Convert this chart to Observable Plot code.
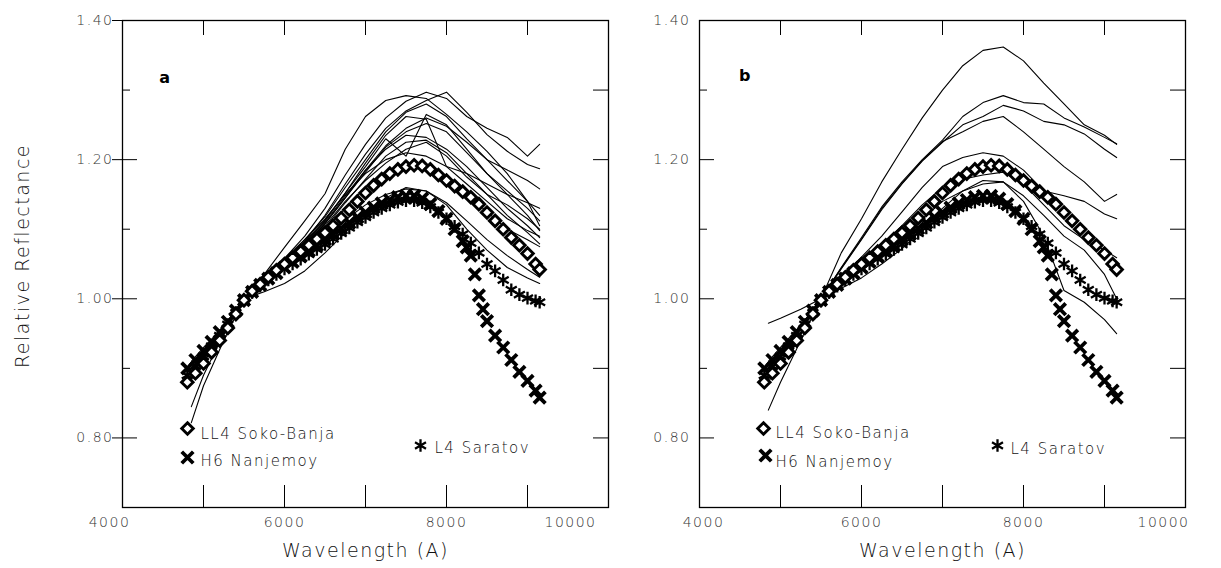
<!DOCTYPE html>
<html>
<head>
<meta charset="utf-8">
<script src="https://cdn.jsdelivr.net/npm/d3@7"></script>
<script src="https://cdn.jsdelivr.net/npm/@observablehq/plot@0.6"></script>
<style>
  html, body { margin: 0; padding: 0; background: #fff; }
  #wrap { display: flex; width: 1221px; height: 568px; overflow: hidden; }
  svg text { letter-spacing: 1.5px; }
</style>
</head>
<body>
<div id="wrap"></div>
<script>
// ---------- DATA ----------
// Reference meteorite spectra (marker series), wavelength in Angstrom
const markerWl = [4800,4900,5000,5100,5200,5300,5400,5500,5600,5700,5800,5900,6000,6100,6200,6300,6400,6500,6600,6700,6800,6900,7000,7100,7200,7300,7400,7500,7600,7700,7800,7900,8000,8100,8200,8300,8400,8500,8600,8700,8800,8900,9000,9100,9150];
const ll4SokoBanja = [0.880,0.893,0.907,0.923,0.940,0.958,0.978,0.998,1.011,1.021,1.031,1.041,1.050,1.059,1.068,1.077,1.086,1.095,1.105,1.116,1.128,1.140,1.152,1.163,1.172,1.180,1.186,1.190,1.192,1.191,1.186,1.178,1.170,1.162,1.154,1.146,1.136,1.124,1.112,1.100,1.088,1.077,1.065,1.050,1.042];
const l4Saratov = [0.890,0.903,0.917,0.932,0.947,0.963,0.980,0.997,1.009,1.018,1.027,1.035,1.043,1.050,1.057,1.064,1.071,1.078,1.086,1.094,1.102,1.110,1.117,1.124,1.130,1.135,1.139,1.141,1.141,1.138,1.132,1.124,1.115,1.104,1.093,1.080,1.066,1.050,1.040,1.027,1.013,1.006,1.001,0.997,0.995];
const h6Wl = [4800,4900,5000,5100,5200,5300,5400,5500,5600,5700,5800,5900,6000,6100,6200,6300,6400,6500,6600,6700,6800,6900,7000,7100,7200,7300,7400,7500,7600,7700,7800,7900,8000,8100,8200,8250,8300,8350,8400,8450,8500,8600,8700,8800,8900,9000,9100,9150];
const h6Nanjemoy = [0.900,0.912,0.925,0.938,0.952,0.967,0.983,0.998,1.010,1.020,1.029,1.037,1.045,1.053,1.061,1.069,1.077,1.085,1.093,1.101,1.109,1.117,1.124,1.131,1.137,1.142,1.146,1.148,1.148,1.144,1.136,1.126,1.115,1.100,1.083,1.074,1.062,1.035,1.005,0.985,0.968,0.947,0.930,0.912,0.895,0.882,0.868,0.858];

// Asteroid spectra (thin lines), shared wavelength grid
const lineWl = [4850,5000,5250,5500,5750,6000,6250,6500,6750,7000,7250,7500,7750,8000,8250,8500,8750,9000,9150];
const panelALines = [
  [0.905,0.925,0.960,1.000,1.035,1.074,1.112,1.151,1.215,1.262,1.285,1.292,1.288,1.265,1.240,1.212,1.180,1.140,1.105],
  [0.895,0.918,0.955,1.000,1.030,1.058,1.090,1.130,1.178,1.222,1.260,1.284,1.297,1.288,1.262,1.245,1.232,1.205,1.222],
  [0.890,0.915,0.953,1.000,1.028,1.052,1.083,1.120,1.165,1.208,1.245,1.270,1.285,1.297,1.268,1.236,1.212,1.193,1.187],
  [0.900,0.920,0.957,1.000,1.030,1.055,1.085,1.118,1.160,1.200,1.240,1.268,1.280,1.262,1.230,1.200,1.170,1.140,1.120],
  [0.910,0.930,0.960,1.000,1.030,1.054,1.082,1.113,1.152,1.190,1.230,1.205,1.265,1.250,1.215,1.180,1.155,1.130,1.112],
  [0.885,0.910,0.950,1.000,1.027,1.050,1.078,1.108,1.145,1.182,1.218,1.240,1.252,1.240,1.210,1.180,1.150,1.120,1.098],
  [0.900,0.922,0.958,1.000,1.029,1.052,1.080,1.110,1.148,1.185,1.215,1.235,1.232,1.215,1.190,1.160,1.130,1.105,1.088],
  [0.895,0.918,0.955,1.000,1.026,1.048,1.074,1.102,1.138,1.172,1.205,1.225,1.228,1.210,1.180,1.150,1.120,1.095,1.079],
  [0.905,0.925,0.960,1.000,1.030,1.052,1.078,1.105,1.140,1.170,1.195,1.215,1.225,1.205,1.175,1.150,1.135,1.115,1.100],
  [0.822,0.875,0.940,1.000,1.035,1.058,1.085,1.115,1.150,1.180,1.200,1.210,1.205,1.190,1.165,1.140,1.115,1.098,1.090],
  [0.845,0.890,0.950,1.000,1.030,1.050,1.075,1.100,1.130,1.160,1.180,1.190,1.185,1.170,1.150,1.125,1.100,1.085,1.075],
  [0.900,0.920,0.958,1.000,1.010,1.022,1.040,1.066,1.095,1.122,1.145,1.160,1.155,1.138,1.112,1.085,1.062,1.042,1.031],
  [0.895,0.915,0.955,1.000,1.025,1.045,1.068,1.090,1.113,1.135,1.150,1.158,1.155,1.135,1.100,1.070,1.045,1.030,1.022],
  [0.890,0.913,0.952,1.000,1.027,1.050,1.077,1.108,1.145,1.185,1.220,1.245,1.260,1.248,1.225,1.200,1.185,1.170,1.158],
  [0.900,0.920,0.956,1.000,1.028,1.053,1.080,1.112,1.152,1.195,1.235,1.262,1.258,1.190,1.180,1.165,1.150,1.138,1.130]
];
const panelBLines = [
  [0.840,0.880,0.940,1.000,1.066,1.115,1.168,1.215,1.260,1.300,1.335,1.357,1.362,1.342,1.310,1.280,1.250,1.235,1.222],
  [0.880,0.910,0.952,1.000,1.045,1.088,1.132,1.168,1.200,1.228,1.262,1.282,1.292,1.282,1.280,1.260,1.247,1.232,1.223],
  [0.900,0.925,0.960,1.000,1.043,1.085,1.128,1.165,1.198,1.225,1.250,1.262,1.278,1.270,1.255,1.250,1.237,1.215,1.203],
  [0.890,0.918,0.957,1.000,1.044,1.086,1.130,1.166,1.199,1.226,1.240,1.255,1.262,1.240,1.215,1.190,1.168,1.140,1.150],
  [0.900,0.925,0.960,1.000,1.030,1.060,1.090,1.125,1.160,1.190,1.203,1.210,1.205,1.185,1.155,1.148,1.140,1.122,1.115],
  [0.910,0.930,0.962,1.000,1.025,1.050,1.078,1.105,1.135,1.160,1.172,1.178,1.182,1.165,1.135,1.105,1.085,1.070,1.059],
  [0.965,0.972,0.985,1.000,1.020,1.040,1.065,1.090,1.115,1.140,1.155,1.165,1.168,1.140,1.090,1.012,0.995,0.970,0.950],
  [0.900,0.920,0.958,1.000,1.015,1.030,1.050,1.072,1.100,1.130,1.155,1.170,1.168,1.148,1.120,1.090,1.070,1.035,1.000]
];

// Axes
const xDomain = [4000, 10000];
const yDomain = [0.70, 1.40];
const xTickMarks = [4000,5000,6000,7000,8000,9000,10000];
const xTickLabelsMid = [6000, 8000];
const xTickLabelFirst = [4000];
const xTickLabelLast = [10000];
const yMajor = [0.80, 1.00, 1.20, 1.40];
const yMinor = [0.90, 1.10, 1.30];
const yAllTicks = [0.80, 0.90, 1.00, 1.10, 1.20, 1.30];
const xTitle = "Wavelength (A)";
const yTitle = "Relative Reflectance";
const legendNames = ["LL4 Soko-Banja", "H6 Nanjemoy", "L4 Saratov"];
const panelLetters = ["a", "b"];

// ---------- DRAW ----------
const H = 568, MT = 20, MB = 61;
const FONT = "DejaVu Sans";
const diamondStyle = {symbol: "diamond2", r: 5.2, stroke: "#000", strokeWidth: 2.9, fill: "white"};
const timesStyle = {symbol: "times", r: 5.3, stroke: "#000", strokeWidth: 3.8};
const asteriskStyle = {symbol: "asterisk", r: 6, stroke: "#000", strokeWidth: 2.3};

function panel(lines, o) {
  const frameW = o.width - o.marginLeft - o.marginRight;
  const frameH = H - MT - MB;
  const lineRows = lines.flatMap((vals, k) => vals.map((r, i) => ({k, w: lineWl[i], r})));
  const mk = (wl, vals) => wl.map((w, i) => ({w, r: vals[i]}));
  const tickFont = {fontSize: 14, fill: "#333", fontWeight: 300, tickFormat: d => String(d)};
  const L = o.legend;
  const legText = {frameAnchor: "top-left", textAnchor: "start", lineAnchor: "middle", fontSize: 15, fill: "#111", fontWeight: 300};
  const marks = [
    Plot.lineY(lineRows, {x: "w", y: "r", z: "k", stroke: "#000", strokeWidth: 1.1}),
    Plot.dot(mk(markerWl, l4Saratov), {x: "w", y: "r", ...asteriskStyle}),
    Plot.dot(mk(h6Wl, h6Nanjemoy), {x: "w", y: "r", ...timesStyle}),
    Plot.dot(mk(markerWl, ll4SokoBanja), {x: "w", y: "r", ...diamondStyle}),
    Plot.frame({stroke: "#000", strokeWidth: 1.3}),
    // inward ticks
    Plot.tickX(xTickMarks, {x: d => d, insetBottom: frameH - 15, stroke: "#000"}),
    Plot.tickX(xTickMarks, {x: d => d, insetTop: frameH - 22, stroke: "#000"}),
    Plot.tickY(yMajor, {y: d => d, insetRight: frameW - 15, insetLeft: o.outerTicks ? -10 : 0, stroke: "#000"}),
    Plot.tickY(yMinor, {y: d => d, insetRight: frameW - 8, stroke: "#000"}),
    Plot.tickY(yAllTicks, {y: d => d, insetLeft: frameW - 15, stroke: "#000"}),
    // tick labels
    Plot.axisX(xTickLabelsMid, {anchor: "bottom", tickSize: 0, tickPadding: 10, label: null, ...tickFont}),
    Plot.axisX(xTickLabelFirst, {anchor: "bottom", tickSize: 0, tickPadding: 10, label: null, dx: o.firstDx, ...tickFont}),
    Plot.axisX(xTickLabelLast, {anchor: "bottom", tickSize: 0, tickPadding: 10, label: null, dx: o.lastDx, ...tickFont}),
    Plot.axisY(yMajor, {anchor: "left", tickSize: 0, tickPadding: 9, label: null, ...tickFont, tickFormat: d3.format(".2f")}),
    // titles
    Plot.text([xTitle], {frameAnchor: "bottom", textAnchor: "middle", lineAnchor: "middle", dy: 43, fontSize: 19, fill: "#111", fontWeight: 300}),
    Plot.text([o.letter], {frameAnchor: "top-left", textAnchor: "middle", lineAnchor: "middle", dx: o.letterDx, dy: o.letterDy, fontSize: 16, fontWeight: "bold", fill: "#000"}),
    // legend
    Plot.dot([legendNames[0]], {frameAnchor: "top-left", dx: L.d[0], dy: L.d[1], ...diamondStyle}),
    Plot.dot([legendNames[1]], {frameAnchor: "top-left", dx: L.x[0], dy: L.x[1], ...timesStyle}),
    Plot.dot([legendNames[2]], {frameAnchor: "top-left", dx: L.a[0], dy: L.a[1], ...asteriskStyle}),
    Plot.text([legendNames[0]], {...legText, dx: L.t0[0], dy: L.t0[1]}),
    Plot.text([legendNames[1]], {...legText, dx: L.t1[0], dy: L.t1[1]}),
    Plot.text([legendNames[2]], {...legText, dx: L.t2[0], dy: L.t2[1]})
  ];
  if (o.showYTitle) {
    marks.push(Plot.text([yTitle], {frameAnchor: "left", textAnchor: "middle", lineAnchor: "middle", rotate: -90, dx: -100, dy: -8, fontSize: 19, fill: "#111", fontWeight: 300}));
  }
  return Plot.plot({
    width: o.width, height: H,
    marginLeft: o.marginLeft, marginRight: o.marginRight, marginTop: MT, marginBottom: MB,
    x: {domain: xDomain, label: null},
    y: {domain: yDomain, label: null},
    style: {fontFamily: FONT, background: "white", overflow: "visible"},
    marks
  });
}

const wrap = document.getElementById("wrap");
wrap.appendChild(panel(panelALines, {
  width: 610, marginLeft: 122, marginRight: 2, outerTicks: true, showYTitle: true,
  letter: panelLetters[0], letterDx: 43, letterDy: 57, firstDx: -13, lastDx: -38,
  legend: {d: [65, 408], x: [65, 437], a: [298, 425], t0: [78, 414], t1: [78, 441], t2: [312, 428]}
}));
wrap.appendChild(panel(panelBLines, {
  width: 611, marginLeft: 89, marginRight: 36, outerTicks: false, showYTitle: false,
  letter: panelLetters[1], letterDx: 46, letterDy: 55, firstDx: 4, lastDx: -22,
  legend: {d: [64, 408], x: [66, 435], a: [298, 425], t0: [76, 413], t1: [76, 442], t2: [311, 429]}
}));
</script>
</body>
</html>
